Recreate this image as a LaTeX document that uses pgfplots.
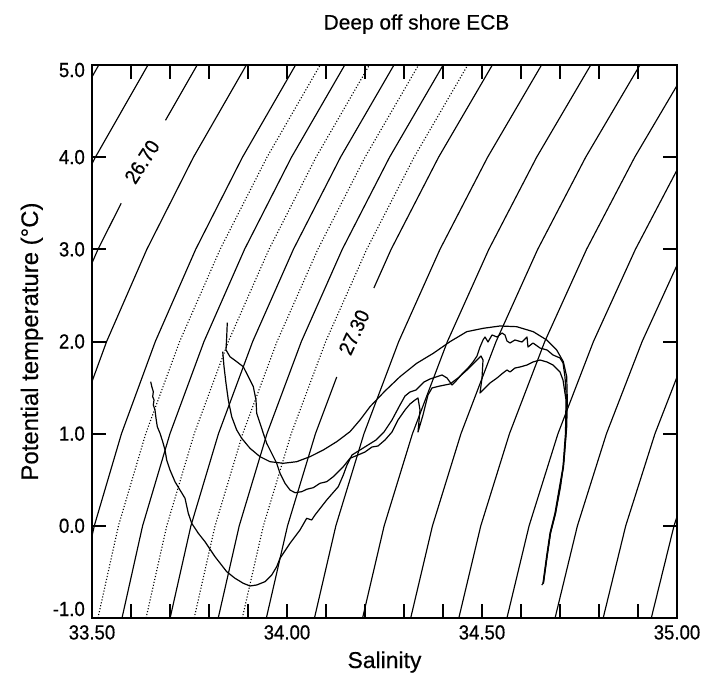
\documentclass[border=0pt]{standalone}
\usepackage{fontspec}
\setmainfont{Liberation Sans}[FakeBold=0.4]
\newfontfamily\tickfont{Liberation Sans}[FakeStretch=0.91, FakeBold=0.5]
\usepackage{pgfplots}
\pgfplotsset{compat=1.18}
\pgfplotsset{
  cs/.style={black, line width=1.15bp},
  cd/.style={black, line width=1.1bp, dash pattern=on 1.1bp off 1.9bp},
  pr/.style={black, line width=1.2bp, line join=round},
}
\begin{document}
\begin{tikzpicture}
\begin{axis}[
  width=585bp, height=553bp, scale only axis,
  xmin=33.5, xmax=35, ymin=-1, ymax=5,
  axis line style={line width=2.6bp},
  xtick={33.5,34,34.5,35},
  xticklabels={33.50,34.00,34.50,35.00},
  minor xtick={33.6,33.7,33.8,33.9,34.1,34.2,34.3,34.4,34.6,34.7,34.8,34.9},
  ytick={-1,0,1,2,3,4,5},
  yticklabels={\raisebox{9bp}[\height][\depth]{-1.0},0.0,1.0,2.0,3.0,4.0,\raisebox{-5bp}[\height][\depth]{5.0}},
  xtick pos=both, ytick pos=both,
  xticklabel pos=lower, yticklabel pos=left,
  tick align=inside,
  major tick length=14bp, minor tick length=14bp,
  every tick/.style={black, line width=2bp},
  every minor tick/.style={black, line width=2bp},
  every tick label/.append style={font=\tickfont\fontsize{20.5}{24}\selectfont, inner sep=0pt},
  xticklabel style={yshift=-7bp},
  yticklabel style={xshift=-7bp},
]
% isopycnals (sigma-theta), solid every 0.1, dotted at .05
\addplot[cs] coordinates {(32.96006,-1) (33.01037,0) (33.07814,1) (33.16306,2) (33.26474,3) (33.38298,4) (33.51737,5)};
\addplot[cs] coordinates {(33.08344,-1) (33.13424,0) (33.20250,1) (33.28788,2) (33.39002,3) (33.50870,4) (33.64351,5)};
\addplot[cs] coordinates {(33.20681,-1) (33.25812,0) (33.32686,1) (33.41271,2) (33.51530,3) (33.5749,3.5)};
\addplot[cs] coordinates {(33.6885,4.4) (33.76966,5)};
\addplot[cs] coordinates {(33.33019,-1) (33.38199,0) (33.45122,1) (33.53753,2) (33.64058,3) (33.76013,4) (33.89580,5)};
\addplot[cs] coordinates {(33.45356,-1) (33.50587,0) (33.57557,1) (33.66236,2) (33.76585,3) (33.88585,4) (34.02195,5)};
\addplot[cd] coordinates {(33.51525,-1) (33.56781,0) (33.63775,1) (33.72477,2) (33.82849,3) (33.94871,4) (34.08502,5)};
\addplot[cs] coordinates {(33.57694,-1) (33.62974,0) (33.69993,1) (33.78718,2) (33.89113,3) (34.01157,4) (34.14809,5)};
\addplot[cd] coordinates {(33.63863,-1) (33.69168,0) (33.76211,1) (33.84959,2) (33.95377,3) (34.07443,4) (34.21116,5)};
\addplot[cs] coordinates {(33.70032,-1) (33.75361,0) (33.82429,1) (33.91200,2) (34.01641,3) (34.13729,4) (34.27423,5)};
\addplot[cd] coordinates {(33.76200,-1) (33.81555,0) (33.88646,1) (33.97442,2) (34.07905,3) (34.20015,4) (34.33731,5)};
\addplot[cs] coordinates {(33.82369,-1) (33.87749,0) (33.94864,1) (34.03683,2) (34.14168,3) (34.26301,4) (34.40038,5)};
\addplot[cd] coordinates {(33.88538,-1) (33.93943,0) (34.01082,1) (34.09924,2) (34.20432,3) (34.32587,4) (34.46345,5)};
\addplot[cs] coordinates {(33.94707,-1) (34.00136,0) (34.07300,1) (34.1275,1.615)};
\addplot[cs] coordinates {(34.2227,2.58) (34.26696,3) (34.38872,4) (34.52652,5)};
\addplot[cs] coordinates {(34.07044,-1) (34.12524,0) (34.19736,1) (34.28648,2) (34.39224,3) (34.51444,4) (34.65266,5)};
\addplot[cs] coordinates {(34.19382,-1) (34.24911,0) (34.32172,1) (34.41130,2) (34.51752,3) (34.64016,4) (34.77881,5)};
\addplot[cs] coordinates {(34.31720,-1) (34.37298,0) (34.44607,1) (34.53612,2) (34.64279,3) (34.76588,4) (34.90495,5)};
\addplot[cs] coordinates {(34.44057,-1) (34.49686,0) (34.57043,1) (34.66095,2) (34.76807,3) (34.89160,4) (35.03109,5)};
\addplot[cs] coordinates {(34.56395,-1) (34.62073,0) (34.69479,1) (34.78577,2) (34.89335,3) (35.01731,4) (35.15723,5)};
\addplot[cs] coordinates {(34.68732,-1) (34.74461,0) (34.81914,1) (34.91060,2) (35.01862,3) (35.14303,4) (35.28338,5)};
\addplot[cs] coordinates {(34.81070,-1) (34.86848,0) (34.94350,1) (35.03542,2) (35.14390,3) (35.26875,4) (35.40952,5)};
\addplot[cs] coordinates {(34.93408,-1) (34.99235,0) (35.06786,1) (35.16024,2) (35.26918,3) (35.39447,4) (35.53566,5)};
\node[rotate=57, font=\tickfont\fontsize{20.5}{24}\selectfont] at (axis cs:33.6285,3.95) {26.70};
\node[rotate=65, font=\tickfont\fontsize{20.5}{24}\selectfont] at (axis cs:34.1722,2.10) {27.30};
% profile A
\addplot[pr] coordinates {
(33.6505,1.5639) (33.6538,1.5032) (33.6572,1.4555) (33.6556,1.4012) (33.6590,1.3654) (33.6572,1.3112)
(33.6615,1.2569) (33.6641,1.1669) (33.6674,1.0757) (33.6744,1.0041) (33.6813,0.9130) (33.6872,0.8229)
(33.6915,0.7144) (33.7000,0.6059) (33.7128,0.4790) (33.7256,0.3889) (33.7385,0.2989) (33.7469,0.1362)
(33.7556,0.0277) (33.7726,-0.0808) (33.7897,-0.1720) (33.8154,-0.3347) (33.8454,-0.4975) (33.8667,-0.5691)
(33.8879,-0.6233) (33.9051,-0.6526) (33.9223,-0.6418) (33.9436,-0.6059) (33.9608,-0.5333) (33.9736,-0.4432)
(33.9821,-0.3521) (34.0077,-0.1893) (34.0333,-0.0450) (34.0505,0.0819) (34.0633,0.0635) (34.0718,0.1177)
(34.1018,0.2805) (34.1315,0.4248) (34.1444,0.5517) (34.1538,0.6602) (34.1667,0.7687) (34.1872,0.8229)
(34.2077,0.8772) (34.2282,0.9314) (34.2487,1.0182) (34.2692,1.1484) (34.2897,1.3112) (34.3026,1.4088)
(34.3154,1.4522) (34.3308,1.4739) (34.3410,1.5173) (34.3513,1.5607) (34.3667,1.5932) (34.3821,1.6150)
(34.3974,1.6367) (34.4103,1.6041) (34.4231,1.5281) (34.4333,1.5716) (34.4487,1.6475) (34.4641,1.7126)
(34.4769,1.7777) (34.4872,1.8428) (34.4949,1.9404) (34.5026,2.0164) (34.5077,2.0489) (34.5154,1.9947)
(34.5256,2.0706) (34.5385,2.0489) (34.5513,2.0923) (34.5590,2.0706) (34.5641,2.0055) (34.5718,1.9838)
(34.5846,2.0164) (34.6026,1.9947) (34.6154,2.0489) (34.6179,1.9404) (34.6308,1.9838) (34.6487,1.9296)
(34.6667,1.9079) (34.6821,1.8536) (34.7000,1.8211) (34.7077,1.7668) (34.7128,1.6149) (34.7167,1.3654)
(34.7154,1.0074) (34.7090,0.6385) (34.7000,0.4215) (34.6885,0.1394) (34.6756,-0.0776) (34.6667,-0.3380)
(34.6577,-0.6201) (34.6531,-0.6418)};
% profile B
\addplot[pr] coordinates {
(33.8469,2.2041) (33.8454,2.0522) (33.8436,1.9079) (33.8538,1.8352) (33.8710,1.7809) (33.8879,1.7267)
(33.9008,1.6182) (33.9136,1.5097) (33.9205,1.3654) (33.9223,1.2211) (33.9308,1.1126) (33.9392,1.0041)
(33.9479,0.8956) (33.9608,0.7871) (33.9736,0.6786) (33.9821,0.5701) (33.9949,0.4616) (34.0077,0.3889)
(34.0205,0.3596) (34.0377,0.3705) (34.0505,0.3965) (34.0674,0.4139) (34.0846,0.4616) (34.1018,0.4790)
(34.1187,0.5333) (34.1315,0.5875) (34.1444,0.6417) (34.1615,0.7329) (34.1821,0.7687) (34.2000,0.8012)
(34.2179,0.8555) (34.2333,0.8663) (34.2513,0.9314) (34.2692,1.0182) (34.2846,1.1484) (34.3026,1.2569)
(34.3154,1.3220) (34.3282,1.3654) (34.3359,1.3871) (34.3410,1.2569) (34.3359,1.0182) (34.3487,1.2027)
(34.3615,1.4197) (34.3718,1.4956) (34.3923,1.5173) (34.4179,1.5390) (34.4385,1.6041) (34.4615,1.6909)
(34.4821,1.7777) (34.4974,1.8428) (34.5026,1.7994) (34.5000,1.6041) (34.4949,1.4413) (34.5077,1.4956)
(34.5205,1.5498) (34.5385,1.6041) (34.5538,1.6584) (34.5641,1.6909) (34.5718,1.6692) (34.5846,1.7126)
(34.5974,1.7234) (34.6154,1.7451) (34.6308,1.7777) (34.6487,1.7994) (34.6667,1.7777) (34.6821,1.7451)
(34.7000,1.6692) (34.7077,1.5824) (34.7154,1.3654) (34.7141,1.0074) (34.7077,0.6385) (34.6987,0.4215)
(34.6872,0.1394) (34.6744,-0.0776) (34.6654,-0.3380) (34.6564,-0.6201)};
% profile C
\addplot[pr] coordinates {
(33.8351,1.8894) (33.8385,1.7267) (33.8436,1.5466) (33.8495,1.3654) (33.8582,1.1842) (33.8710,1.0399)
(33.8838,0.9498) (33.9051,0.8413) (33.9308,0.7502) (33.9564,0.6960) (33.9905,0.6786) (34.0249,0.6960)
(34.0590,0.7502) (34.0931,0.8229) (34.1274,0.9130) (34.1615,1.0215) (34.1872,1.1484) (34.2128,1.2927)
(34.2513,1.4630) (34.2897,1.6182) (34.3326,1.7636) (34.3751,1.8721) (34.4179,1.9979) (34.4608,2.1064)
(34.5033,2.1433) (34.5462,2.1683) (34.5890,2.1607) (34.6315,2.1064) (34.6659,2.0164) (34.6915,1.9079)
(34.7085,1.7809) (34.7172,1.6182) (34.7187,1.3654) (34.7172,1.0757) (34.7103,0.7144) (34.7013,0.4248)
(34.6885,0.1362) (34.6756,-0.0808) (34.6667,-0.3347) (34.6572,-0.6233)};
\end{axis}
\node[anchor=base, font=\fontsize{21}{25}\selectfont] at ([xshift=32bp, yshift=35.5bp]current axis.north) {Deep off shore ECB};
\node[anchor=base, font=\fontsize{23}{27}\selectfont] at ([yshift=-50bp]current axis.south) {Salinity};
\node[anchor=base, rotate=90, font=\fontsize{24}{27}\selectfont] at ([xshift=-54bp]current axis.west) {Potential temperature (°C)};
\pgfresetboundingbox
\path[use as bounding box] (current axis.south west) ++(-92bp,-58bp) rectangle ++(707bp,676bp);
\end{tikzpicture}
\end{document}
